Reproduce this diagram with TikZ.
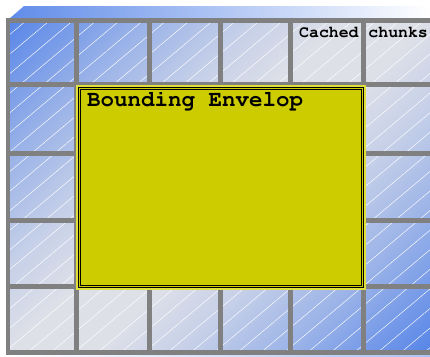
\documentclass[tikz,border=0pt]{standalone}
\usepackage[T1]{fontenc}
\usepackage{fontspec}
\usetikzlibrary{patterns.meta}
\definecolor{cellblue}{RGB}{88,134,232}
\definecolor{cellpale}{RGB}{222,224,232}
\definecolor{framegray}{RGB}{128,128,128}
\definecolor{envyellow}{RGB}{204,204,0}
\definecolor{envedge}{RGB}{224,224,60}
\pgfdeclarehorizontalshading{chunkshade}{100bp}{color(0bp)=(cellblue); color(15bp)=(cellblue);
  color(28bp)=(cellblue!50!cellpale); color(38bp)=(cellblue!18!cellpale); color(46bp)=(cellpale);
  color(54bp)=(cellpale); color(62bp)=(cellblue!18!cellpale); color(72bp)=(cellblue!50!cellpale);
  color(85bp)=(cellblue); color(100bp)=(cellblue)}
\newcommand\courierbf{\fontencoding{T1}\fontfamily{pcr}\fontseries{b}\selectfont}
\tikzset{
  hatch/.style={pattern={Lines[angle=40,distance=15pt,line width=0.45pt]},pattern color=white,fill opacity=0.65},
  gridline/.style={draw=framegray,line width=5pt},
  envelop/.style={rectangle,fill=envyellow,draw=black,line width=0.9pt,double=envyellow,double distance=1.6pt,
    minimum width=283pt,minimum height=198pt,inner sep=0pt,outer sep=0pt},
  tag/.style={inner sep=0pt,anchor=base west}
}
\begin{document}
\begin{tikzpicture}[x=1pt,y=-1pt]
\useasboundingbox (0,0) rectangle (430,356);
% top face and bottom rim
\shade[left color=cellblue!95!white,right color=white] (9,19) -- (24,6) -- (430,6) -- (430,19) -- cycle;
\shade[left color=white,right color=cellblue!50!white] (6,353) rectangle (430,356);
% chunk cells
\shade[shading=chunkshade,shading angle=-45] (6,18) rectangle (430,354);
\fill[hatch] (6,18) rectangle (430,354);
\foreach \x in {76.5,149,220.5,290.5,363.5}
  \draw[gridline] (\x,18) -- (\x,354);
\foreach \y in {20,84.5,153,220.5,286.5,352}
  \draw[gridline] (6,\y) -- (430,\y);
\draw[gridline,line width=4pt] (8,18) -- (8,354);
% envelop
\draw[envedge,line width=2pt] (77,86) rectangle (365,289);
\node[envelop] (env) at (221,187.5) {};
\node[tag,font=\courierbf\fontsize{22.5}{24}\selectfont] (envlabel) at (87,106) {Bounding Envelop};
\node[tag,font=\courierbf\fontsize{16.5}{18}\selectfont] (cache) at (299,37) {Cached chunks};
\end{tikzpicture}
\end{document}
